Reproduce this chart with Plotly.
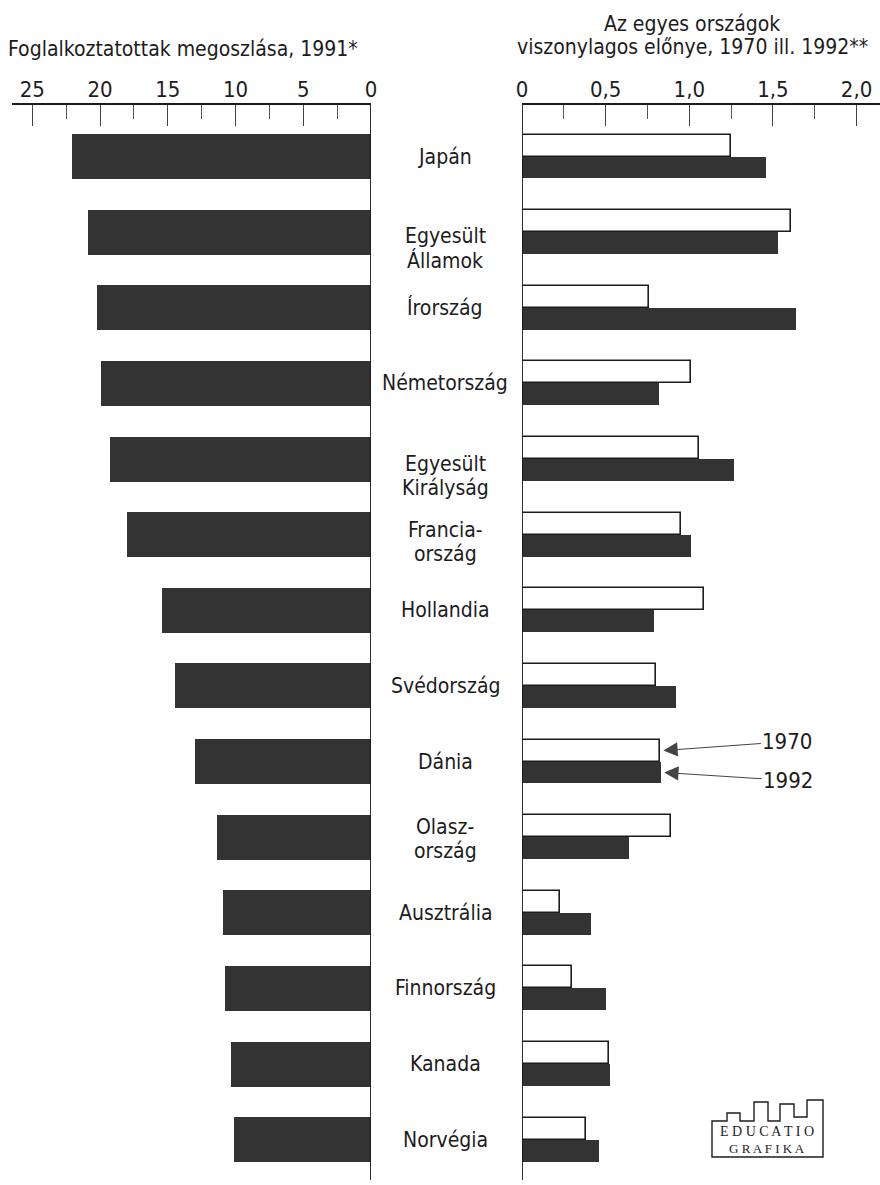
import plotly.graph_objects as go

# ---------------- data ----------------
countries = ["Japán", "Egyesült\nÁllamok", "Írország", "Németország",
             "Egyesült\nKirályság", "Francia-\nország", "Hollandia",
             "Svédország", "Dánia", "Olasz-\nország", "Ausztrália",
             "Finnország", "Kanada", "Norvégia"]
employment_1991 = [22.1, 20.9, 20.2, 19.95, 19.3, 18.0, 15.4,
                   14.5, 13.0, 11.4, 10.9, 10.75, 10.35, 10.15]
advantage_1970 = [1.25, 1.61, 0.76, 1.01, 1.06, 0.95, 1.09,
                  0.80, 0.825, 0.89, 0.23, 0.30, 0.52, 0.385]
advantage_1992 = [1.46, 1.53, 1.64, 0.82, 1.27, 1.01, 0.79,
                  0.92, 0.83, 0.64, 0.415, 0.505, 0.525, 0.46]
left_ticks = [25, 20, 15, 10, 5, 0]
left_ticktext = ["25", "20", "15", "10", "5", "0"]
right_ticks = [0, 0.5, 1.0, 1.5, 2.0]
right_ticktext = ["0", "0,5", "1,0", "1,5", "2,0"]
title_left = "Foglalkoztatottak megoszlása, 1991*"
title_right = ["Az egyes országok", "viszonylagos előnye, 1970 ill. 1992**"]
series_names = ["1970", "1992"]
arrow_country = 8  # Dánia

# ---------------- style ----------------
W, H = 880, 1185
FONT = "DejaVu Sans Condensed, Liberation Sans Narrow, Arial Narrow, sans-serif"
SERIF = "Liberation Serif, DejaVu Serif, serif"
INK = "#1c1c1c"
DARK = "#333333"
TOP = 105  # pixel of top axis line


def px(x):
    return x / W


def py(y):
    return 1 - y / H


# vertical shift (px, down positive) of first label line; line gap for 2-line labels
label_shift = {1: 4, 4: 5, 5: -5, 9: -10}
LINE_GAP = 24

idx = list(range(len(countries)))

fig = go.Figure()

fig.add_trace(go.Bar(
    x=employment_1991, y=idx, orientation="h", xaxis="x", yaxis="y",
    width=0.595, marker=dict(color=DARK, line=dict(width=0)),
    hoverinfo="skip", showlegend=False))

fig.add_trace(go.Bar(
    x=advantage_1970, y=idx, orientation="h", xaxis="x2", yaxis="y",
    width=0.29, offset=-0.29, name=series_names[0],
    marker=dict(color="white", line=dict(color=INK, width=1.6)),
    hoverinfo="skip", showlegend=False))

fig.add_trace(go.Bar(
    x=advantage_1992, y=idx, orientation="h", xaxis="x2", yaxis="y",
    width=0.29, offset=0.0, name=series_names[1],
    marker=dict(color=DARK, line=dict(width=0)),
    hoverinfo="skip", showlegend=False))

axis_common = dict(
    side="top", anchor="y", showgrid=False, zeroline=False, automargin=False,
    showline=True, linecolor=INK, linewidth=1.5,
    ticks="inside", ticklen=21, tickwidth=1.3, tickcolor="#444",
    ticklabelstandoff=-3,
    tickfont=dict(family=FONT, size=22, color=INK),
    tickmode="array", fixedrange=True,
)

fig.update_layout(
    template="none",
    width=W, height=H, autosize=False,
    margin=dict(l=0, r=0, t=0, b=0, pad=0, autoexpand=False),
    paper_bgcolor="white", plot_bgcolor="white",
    xaxis=dict(axis_common, domain=[px(12), px(371)], range=[26.5, 0],
               tickvals=left_ticks, ticktext=left_ticktext,
               minor=dict(dtick=2.5, tick0=0, ticks="inside", ticklen=14,
                          tickwidth=1.1, tickcolor="#555")),
    xaxis2=dict(axis_common, domain=[px(522), 1.0], range=[0, 2.14],
                tickvals=right_ticks, ticktext=right_ticktext,
                minor=dict(dtick=0.25, tick0=0, ticks="inside", ticklen=14,
                           tickwidth=1.1, tickcolor="#555")),
    yaxis=dict(domain=[0, py(TOP)], range=[13.6, -0.681], visible=False,
               automargin=False, fixedrange=True),
    bargap=0, showlegend=False,
)

shapes = []
# vertical baselines at value 0 of each axis
for xr in ["x", "x2"]:
    shapes.append(dict(type="line", xref=xr, yref="paper", x0=0, x1=0,
                       y0=py(1180), y1=py(TOP), line=dict(color=INK, width=1.8)))

# EDUCATIO GRAFIKA logo outline
logo_pts = [(712, 1157), (712, 1121), (727, 1121), (727, 1113), (740, 1113),
            (740, 1121), (754, 1121), (754, 1102), (768, 1102), (768, 1121),
            (780, 1121), (780, 1104), (794, 1104), (794, 1117), (807, 1117),
            (807, 1100), (823, 1100), (823, 1157)]
path = "M " + " L ".join(f"{px(a):.5f},{py(b):.5f}" for a, b in logo_pts) + " Z"
shapes.append(dict(type="path", xref="paper", yref="paper", path=path,
                   line=dict(color=INK, width=1.4), fillcolor="white"))

annotations = []
# country labels
for i, name in enumerate(countries):
    lines = name.split("\n")
    first = label_shift.get(i, 0)
    for k, ln in enumerate(lines):
        annotations.append(dict(
            text=ln, xref="paper", yref="y", x=px(445), y=i,
            xanchor="center", yanchor="middle", showarrow=False,
            yshift=-(first + k * LINE_GAP),
            font=dict(family=FONT, size=21, color=INK)))

# titles
annotations.append(dict(text=title_left, xref="paper", yref="paper",
                        x=px(6), y=py(49), xanchor="left", yanchor="middle",
                        showarrow=False, font=dict(family=FONT, size=21, color=INK)))
for k, ln in enumerate(title_right):
    annotations.append(dict(text=ln, xref="paper", yref="paper",
                            x=px(692), y=py(24 + 23 * k), xanchor="center",
                            yanchor="middle", showarrow=False,
                            font=dict(family=FONT, size=21, color=INK)))

# arrows to Dánia bars
for k, (vals, off, ay) in enumerate([(advantage_1970, -0.145, -9),
                                     (advantage_1992, 0.145, 8)]):
    annotations.append(dict(
        text=series_names[k], xref="x2", yref="y",
        x=vals[arrow_country] + 0.02, y=arrow_country + off,
        ax=124, ay=ay, showarrow=True, arrowhead=2, arrowsize=2.6,
        arrowwidth=1.1, arrowcolor="#444", standoff=0,
        font=dict(family=FONT, size=22, color=INK)))

# logo text
annotations.append(dict(text="E D U C A T I O", xref="paper", yref="paper",
                        x=px(767), y=py(1131), xanchor="center", yanchor="middle",
                        showarrow=False, font=dict(family=SERIF, size=14, color=INK)))
annotations.append(dict(text="G R A F I K A", xref="paper", yref="paper",
                        x=px(767), y=py(1148), xanchor="center", yanchor="middle",
                        showarrow=False, font=dict(family=SERIF, size=13, color=INK)))

fig.update_layout(shapes=shapes, annotations=annotations)

fig.write_html("out.html", config={"displayModeBar": False},
               post_script="document.body.style.margin='0';")
